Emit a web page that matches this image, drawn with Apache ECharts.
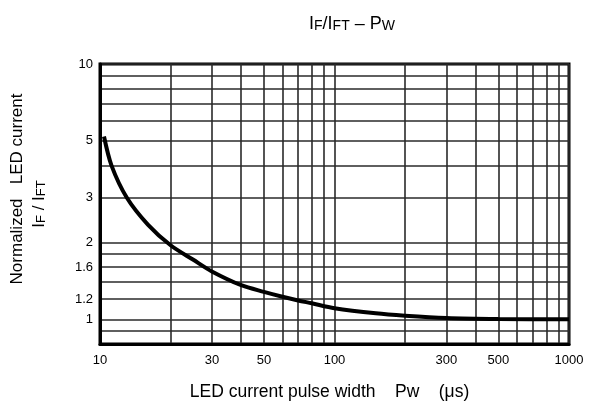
<!DOCTYPE html>
<html>
<head>
<meta charset="utf-8">
<script src="https://cdn.jsdelivr.net/npm/echarts@6/dist/echarts.min.js"></script>
<style>
html,body{margin:0;padding:0;background:#fff;}
#main{width:590px;height:411px;}
</style>
</head>
<body>
<div id="main"></div>
<script>
// Data
const pulseWidth = [10.4, 11.2, 13, 16, 20, 25, 30, 40, 50, 60, 70, 80, 100, 150, 200, 300, 500, 1000];
const normCurrent = [5.2, 4.0, 3.0, 2.35, 1.95, 1.71, 1.54, 1.36, 1.28, 1.225, 1.185, 1.155, 1.105, 1.055, 1.033, 1.012, 1.003, 1.0];
const xGridValues = [10, 20, 30, 40, 50, 60, 70, 80, 90, 100, 200, 300, 400, 500, 600, 700, 800, 900, 1000];
const xLabelValues = [10, 30, 50, 100, 300, 500, 1000];
const yGridValues = [0.9, 1, 1.2, 1.4, 1.6, 1.8, 2, 3, 4, 5, 6, 7, 8, 9, 10];
const yLabelValues = [1, 1.2, 1.6, 2, 3, 5, 10];

const font = 'Liberation Sans, Arial, sans-serif';
const chart = echarts.init(document.getElementById('main'), null, {renderer: 'canvas'});
const gridLine = {show: true, lineStyle: {color: '#2a2a2a', width: 1.6}};

chart.setOption({
  animation: false,
  backgroundColor: '#fff',
  grid: {left: 100, right: 21, top: 64, bottom: 67, containLabel: false, outerBoundsMode: 'none',
         show: true, borderColor: '#000', borderWidth: 3, backgroundColor: 'transparent'},
  graphic: [{
    type: 'text', x: 352, y: 24,
    style: {
      text: '{n|I}{s|F}{n|/I}{s|FT}{n| – P}{s|W}',
      align: 'center', verticalAlign: 'middle',
      rich: {
        n: {fontFamily: font, fontSize: 18, fill: '#000'},
        s: {fontFamily: font, fontSize: 14, fill: '#000', padding: [5, 0, 0, 0]}
      }
    }
  }],
  xAxis: {
    type: 'log', logBase: 10, min: 10, max: 1000,
    name: 'LED current pulse width    Pw    (\u03bcs)',
    nameLocation: 'middle', nameGap: 39,
    nameTextStyle: {fontFamily: font, fontSize: 17.5, color: '#000', padding: [0, 10, 0, 0]},
    axisLine: {show: true, lineStyle: {color: '#000', width: 3}},
    axisTick: {show: false, customValues: xGridValues},
    axisLabel: {customValues: xLabelValues, fontFamily: font, fontSize: 13, color: '#000', margin: 10,
                formatter: v => String(v)},
    splitLine: gridLine,
    minorTick: {show: false}, minorSplitLine: {show: false}
  },
  yAxis: {
    type: 'log', logBase: 10, min: 0.8, max: 10,
    name: '{a|Normalized   LED current}\n{b|I}{c|F}{b| / I}{c|FT}',
    nameLocation: 'middle', nameRotate: 90, nameGap: 50,
    nameTextStyle: {
      fontFamily: font, fontSize: 17, color: '#000', align: 'center',
      rich: {
        a: {fontFamily: font, fontSize: 17, color: '#000', lineHeight: 22, padding: [0, 0, 0, 30]},
        b: {fontFamily: font, fontSize: 17, color: '#000', lineHeight: 22},
        c: {fontFamily: font, fontSize: 13, color: '#000', lineHeight: 22, padding: [5, 0, 0, 0]}
      }
    },
    axisLine: {show: true, lineStyle: {color: '#000', width: 3}},
    axisTick: {show: false, customValues: yGridValues},
    axisLabel: {customValues: yLabelValues, fontFamily: font, fontSize: 13, color: '#000', margin: 7,
                formatter: v => String(v)},
    splitLine: gridLine,
    minorTick: {show: false}, minorSplitLine: {show: false}
  },
  series: [{
    type: 'line',
    data: pulseWidth.map((p, i) => [p, normCurrent[i]]),
    smooth: 0.3,
    showSymbol: false,
    lineStyle: {color: '#000', width: 4},
    z: 10
  }]
});
</script>
</body>
</html>
